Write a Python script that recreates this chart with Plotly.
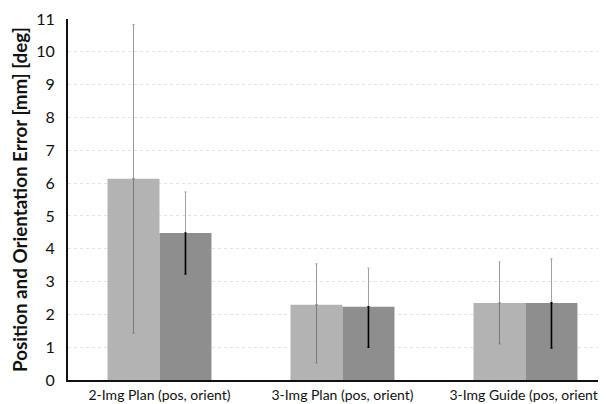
import plotly.graph_objects as go

categories = ["2-Img Plan (pos, orient)", "3-Img Plan (pos, orient)", "3-Img Guide (pos, orient)"]
pos_mean = [6.13, 2.29, 2.35]
pos_err_plus = [4.70, 1.25, 1.25]
pos_err_minus = [4.70, 1.77, 1.25]
ori_mean = [4.48, 2.23, 2.35]
ori_err_plus = [1.25, 1.18, 1.34]
ori_err_minus = [1.25, 1.23, 1.37]
y_ticks = list(range(0, 12))

bw = 0.284
fig = go.Figure()
series = [
    (pos_mean, pos_err_plus, pos_err_minus, "#b3b3b3", "#9a9a9a", "#7a7a7a", -bw),
    (ori_mean, ori_err_plus, ori_err_minus, "#8e8e8e", "#a0a0a0", "#000000", 0.0),
]
for mean, ep, em, fill, up_col, low_col, off in series:
    fig.add_trace(go.Bar(
        x=categories, y=mean, offset=off, width=bw,
        marker=dict(color=fill, line=dict(width=0)),
        error_y=dict(type="data", symmetric=False, array=ep, arrayminus=[0]*len(ep),
                     color=up_col, thickness=1, width=1),
        showlegend=False, hoverinfo="skip"))
    fig.add_trace(go.Bar(
        x=categories, y=mean, offset=off, width=bw,
        marker=dict(color="rgba(0,0,0,0)", line=dict(width=0)),
        error_y=dict(type="data", symmetric=False, array=[0]*len(em), arrayminus=em,
                     color=low_col, thickness=1.6 if low_col == "#000000" else 1, width=1),
        showlegend=False, hoverinfo="skip"))

fig.update_layout(
    width=598, height=396,
    barmode="overlay",
    plot_bgcolor="white", paper_bgcolor="white",
    margin=dict(l=60, r=0, t=11, b=24, autoexpand=False),
    font=dict(family="Lato, 'Open Sans', sans-serif", color="#111111"),
)
fig.update_xaxes(
    type="category", range=[-0.5, 2.44], automargin=False,
    showline=True, linecolor="#111111", linewidth=2,
    showgrid=False, ticks="", tickfont=dict(size=14),
    ticklabelstandoff=1,
)
fig.update_yaxes(
    range=[0, 11], tickvals=y_ticks, automargin=False,
    showline=True, linecolor="#111111", linewidth=2,
    showgrid=True, gridcolor="#e4e4e4", griddash="dot", gridwidth=1,
    zeroline=False, ticks="", tickfont=dict(size=16),
    ticklabelstandoff=8,
    title=dict(text="<b>Position and Orientation Error [mm] [deg]</b>",
               font=dict(size=18.8), standoff=6),
)
fig.write_html("out.html")
